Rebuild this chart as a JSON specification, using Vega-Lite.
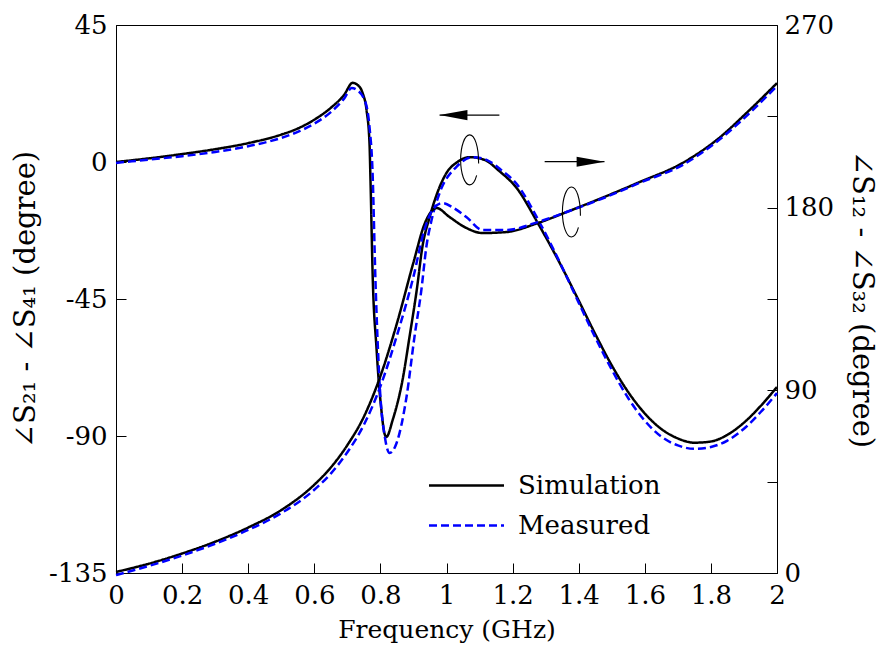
{
  "$schema": "https://vega.github.io/schema/vega-lite/v6.json",
  "width": 661,
  "height": 548,
  "autosize": {"type": "none"},
  "padding": {"left": 116, "top": 25, "right": 108, "bottom": 79},
  "background": "white",
  "config": {
    "view": {"stroke": "black", "strokeWidth": 1},
    "font": "DejaVu Serif",
    "axis": {"grid": false, "labelFont": "DejaVu Serif", "titleFont": "DejaVu Serif", "labelColor": "black", "titleColor": "black", "titleFontWeight": "normal", "domainColor": "black", "tickColor": "black", "labelFontSize": 26, "titleFontSize": 28, "tickSize": -10, "labelPadding": 19, "labelExpr": "replace(datum.label, '−', '-')"}
  },
  "datasets": {
    "left": [
      {"f": 0, "v": 0.0, "series": "Simulation"},
      {"f": 0.1, "v": 1.2, "series": "Simulation"},
      {"f": 0.2, "v": 2.6, "series": "Simulation"},
      {"f": 0.3, "v": 4.2, "series": "Simulation"},
      {"f": 0.4, "v": 6.2, "series": "Simulation"},
      {"f": 0.5, "v": 9.0, "series": "Simulation"},
      {"f": 0.55, "v": 11.0, "series": "Simulation"},
      {"f": 0.6, "v": 13.9, "series": "Simulation"},
      {"f": 0.65, "v": 17.8, "series": "Simulation"},
      {"f": 0.69, "v": 22.0, "series": "Simulation"},
      {"f": 0.716, "v": 26.0, "series": "Simulation"},
      {"f": 0.731, "v": 25.3, "series": "Simulation"},
      {"f": 0.746, "v": 22.7, "series": "Simulation"},
      {"f": 0.758, "v": 17.1, "series": "Simulation"},
      {"f": 0.767, "v": 6.2, "series": "Simulation"},
      {"f": 0.770, "v": -5.9, "series": "Simulation"},
      {"f": 0.777, "v": -38.8, "series": "Simulation"},
      {"f": 0.788, "v": -60.8, "series": "Simulation"},
      {"f": 0.794, "v": -70.6, "series": "Simulation"},
      {"f": 0.803, "v": -81.5, "series": "Simulation"},
      {"f": 0.812, "v": -89.0, "series": "Simulation"},
      {"f": 0.818, "v": -90.3, "series": "Simulation"},
      {"f": 0.837, "v": -84.8, "series": "Simulation"},
      {"f": 0.867, "v": -71.6, "series": "Simulation"},
      {"f": 0.888, "v": -57.5, "series": "Simulation"},
      {"f": 0.910, "v": -42.0, "series": "Simulation"},
      {"f": 0.927, "v": -27.9, "series": "Simulation"},
      {"f": 0.949, "v": -18.1, "series": "Simulation"},
      {"f": 0.970, "v": -10.8, "series": "Simulation"},
      {"f": 1.000, "v": -3.6, "series": "Simulation"},
      {"f": 1.033, "v": 0.0, "series": "Simulation"},
      {"f": 1.070, "v": 1.6, "series": "Simulation"},
      {"f": 1.115, "v": 0.7, "series": "Simulation"},
      {"f": 1.160, "v": -3.0, "series": "Simulation"},
      {"f": 1.212, "v": -8.5, "series": "Simulation"},
      {"f": 1.276, "v": -20.0, "series": "Simulation"},
      {"f": 1.333, "v": -31.2, "series": "Simulation"},
      {"f": 1.4, "v": -45.5, "series": "Simulation"},
      {"f": 1.45, "v": -56.5, "series": "Simulation"},
      {"f": 1.5, "v": -66.8, "series": "Simulation"},
      {"f": 1.55, "v": -75.6, "series": "Simulation"},
      {"f": 1.6, "v": -82.6, "series": "Simulation"},
      {"f": 1.65, "v": -87.7, "series": "Simulation"},
      {"f": 1.7, "v": -90.8, "series": "Simulation"},
      {"f": 1.75, "v": -92.2, "series": "Simulation"},
      {"f": 1.8, "v": -91.8, "series": "Simulation"},
      {"f": 1.85, "v": -89.6, "series": "Simulation"},
      {"f": 1.9, "v": -85.6, "series": "Simulation"},
      {"f": 1.95, "v": -80.2, "series": "Simulation"},
      {"f": 2.0, "v": -73.9, "series": "Simulation"},
      {"f": 0, "v": -0.3, "series": "Measured"},
      {"f": 0.1, "v": 0.8, "series": "Measured"},
      {"f": 0.2, "v": 1.9, "series": "Measured"},
      {"f": 0.3, "v": 3.3, "series": "Measured"},
      {"f": 0.4, "v": 5.2, "series": "Measured"},
      {"f": 0.5, "v": 7.9, "series": "Measured"},
      {"f": 0.55, "v": 9.9, "series": "Measured"},
      {"f": 0.6, "v": 12.6, "series": "Measured"},
      {"f": 0.65, "v": 16.4, "series": "Measured"},
      {"f": 0.69, "v": 20.8, "series": "Measured"},
      {"f": 0.713, "v": 24.3, "series": "Measured"},
      {"f": 0.728, "v": 23.7, "series": "Measured"},
      {"f": 0.752, "v": 20.4, "series": "Measured"},
      {"f": 0.767, "v": 11.5, "series": "Measured"},
      {"f": 0.776, "v": -2.6, "series": "Measured"},
      {"f": 0.785, "v": -38.8, "series": "Measured"},
      {"f": 0.797, "v": -71.6, "series": "Measured"},
      {"f": 0.815, "v": -91.3, "series": "Measured"},
      {"f": 0.828, "v": -95.6, "series": "Measured"},
      {"f": 0.849, "v": -92.3, "series": "Measured"},
      {"f": 0.879, "v": -77.2, "series": "Measured"},
      {"f": 0.903, "v": -57.5, "series": "Measured"},
      {"f": 0.924, "v": -42.0, "series": "Measured"},
      {"f": 0.939, "v": -27.9, "series": "Measured"},
      {"f": 0.955, "v": -19.0, "series": "Measured"},
      {"f": 0.979, "v": -10.2, "series": "Measured"},
      {"f": 1.030, "v": -1.6, "series": "Measured"},
      {"f": 1.079, "v": 1.6, "series": "Measured"},
      {"f": 1.121, "v": 0.7, "series": "Measured"},
      {"f": 1.165, "v": -2.6, "series": "Measured"},
      {"f": 1.212, "v": -7.2, "series": "Measured"},
      {"f": 1.281, "v": -19.7, "series": "Measured"},
      {"f": 1.351, "v": -34.8, "series": "Measured"},
      {"f": 1.4, "v": -46.2, "series": "Measured"},
      {"f": 1.45, "v": -57.6, "series": "Measured"},
      {"f": 1.5, "v": -68.2, "series": "Measured"},
      {"f": 1.55, "v": -77.6, "series": "Measured"},
      {"f": 1.6, "v": -85.0, "series": "Measured"},
      {"f": 1.65, "v": -90.2, "series": "Measured"},
      {"f": 1.7, "v": -93.1, "series": "Measured"},
      {"f": 1.75, "v": -94.2, "series": "Measured"},
      {"f": 1.8, "v": -93.6, "series": "Measured"},
      {"f": 1.85, "v": -91.5, "series": "Measured"},
      {"f": 1.9, "v": -87.6, "series": "Measured"},
      {"f": 1.95, "v": -82.2, "series": "Measured"},
      {"f": 2.0, "v": -75.9, "series": "Measured"}
    ],
    "right": [
      {"f": 0, "v": 0.5, "series": "Simulation"},
      {"f": 0.1, "v": 4.6, "series": "Simulation"},
      {"f": 0.2, "v": 9.6, "series": "Simulation"},
      {"f": 0.3, "v": 15.4, "series": "Simulation"},
      {"f": 0.4, "v": 22.4, "series": "Simulation"},
      {"f": 0.5, "v": 31.0, "series": "Simulation"},
      {"f": 0.6, "v": 43.5, "series": "Simulation"},
      {"f": 0.65, "v": 52.0, "series": "Simulation"},
      {"f": 0.7, "v": 63.0, "series": "Simulation"},
      {"f": 0.75, "v": 77.0, "series": "Simulation"},
      {"f": 0.8, "v": 97.0, "series": "Simulation"},
      {"f": 0.85, "v": 123.0, "series": "Simulation"},
      {"f": 0.9, "v": 153.0, "series": "Simulation"},
      {"f": 0.935, "v": 172.5, "series": "Simulation"},
      {"f": 0.970, "v": 179.8, "series": "Simulation"},
      {"f": 1.009, "v": 175.4, "series": "Simulation"},
      {"f": 1.060, "v": 170.0, "series": "Simulation"},
      {"f": 1.109, "v": 167.5, "series": "Simulation"},
      {"f": 1.182, "v": 168.0, "series": "Simulation"},
      {"f": 1.276, "v": 172.4, "series": "Simulation"},
      {"f": 1.372, "v": 178.4, "series": "Simulation"},
      {"f": 1.478, "v": 185.3, "series": "Simulation"},
      {"f": 1.584, "v": 192.6, "series": "Simulation"},
      {"f": 1.714, "v": 202.0, "series": "Simulation"},
      {"f": 1.817, "v": 213.3, "series": "Simulation"},
      {"f": 1.917, "v": 228.1, "series": "Simulation"},
      {"f": 2.0, "v": 241.4, "series": "Simulation"},
      {"f": 0, "v": -1.0, "series": "Measured"},
      {"f": 0.1, "v": 3.5, "series": "Measured"},
      {"f": 0.2, "v": 8.6, "series": "Measured"},
      {"f": 0.3, "v": 14.4, "series": "Measured"},
      {"f": 0.4, "v": 21.2, "series": "Measured"},
      {"f": 0.5, "v": 29.5, "series": "Measured"},
      {"f": 0.6, "v": 41.0, "series": "Measured"},
      {"f": 0.65, "v": 49.0, "series": "Measured"},
      {"f": 0.7, "v": 59.5, "series": "Measured"},
      {"f": 0.75, "v": 73.0, "series": "Measured"},
      {"f": 0.8, "v": 92.0, "series": "Measured"},
      {"f": 0.85, "v": 117.0, "series": "Measured"},
      {"f": 0.9, "v": 146.0, "series": "Measured"},
      {"f": 0.933, "v": 169.0, "series": "Measured"},
      {"f": 0.958, "v": 178.9, "series": "Measured"},
      {"f": 0.988, "v": 182.3, "series": "Measured"},
      {"f": 1.020, "v": 180.0, "series": "Measured"},
      {"f": 1.060, "v": 175.4, "series": "Measured"},
      {"f": 1.109, "v": 169.0, "series": "Measured"},
      {"f": 1.182, "v": 169.0, "series": "Measured"},
      {"f": 1.276, "v": 172.9, "series": "Measured"},
      {"f": 1.381, "v": 178.9, "series": "Measured"},
      {"f": 1.484, "v": 185.3, "series": "Measured"},
      {"f": 1.584, "v": 192.2, "series": "Measured"},
      {"f": 1.714, "v": 201.0, "series": "Measured"},
      {"f": 1.817, "v": 212.4, "series": "Measured"},
      {"f": 1.917, "v": 226.6, "series": "Measured"},
      {"f": 2.0, "v": 240.0, "series": "Measured"}
    ],
    "arrows": [
      {"f": 0.979, "f2": 1.160, "v": 15.4, "dir": "left", "fh": 1.021},
      {"f": 1.297, "f2": 1.478, "v": 0.1, "dir": "right", "fh": 1.436}
    ],
    "loops": [
      {"f": 1.070, "v": 0.7},
      {"f": 1.378, "v": -16.4}
    ]
  },
  "encoding": {
    "x": {"field": "f", "type": "quantitative", "scale": {"domain": [0, 2], "nice": false},
      "axis": {"values": [0, 0.2, 0.4, 0.6, 0.8, 1, 1.2, 1.4, 1.6, 1.8, 2], "format": "~g", "labelFlush": false, "title": "Frequency (GHz)", "titleFontSize": 25, "titlePadding": 9}}
  },
  "layer": [
    {
      "data": {"name": "left"},
      "mark": {"type": "line", "strokeWidth": 2.5, "interpolate": "monotone"},
      "encoding": {
        "y": {"field": "v", "type": "quantitative", "scale": {"domain": [-135, 45], "nice": false},
          "axis": {"orient": "left", "values": [-135, -90, -45, 0, 45], "title": "∠S₂₁ - ∠S₄₁ (degree)", "titleFontSize": 29, "titlePadding": 8}},
        "color": {"field": "series", "type": "nominal", "scale": {"domain": ["Simulation", "Measured"], "range": ["#000000", "#0000ff"]},
          "legend": {"orient": "none", "legendX": 334, "legendY": 444, "title": null, "symbolType": "M -2.5 0 L 2.5 0", "symbolSize": 900, "symbolStrokeWidth": 2.5, "labelFontSize": 26, "labelFont": "DejaVu Serif", "labelColor": "black", "labelOffset": 35, "rowPadding": 10, "padding": 0}},
        "strokeDash": {"field": "series", "type": "nominal", "scale": {"domain": ["Simulation", "Measured"], "range": [[1, 0], [8, 4]]},
          "legend": {"orient": "none", "legendX": 334, "legendY": 444, "title": null, "symbolType": "M -2.5 0 L 2.5 0", "symbolSize": 900, "symbolStrokeWidth": 2.5, "labelFontSize": 26, "labelFont": "DejaVu Serif", "labelColor": "black", "labelOffset": 35, "rowPadding": 10, "padding": 0}}
      }
    },
    {
      "data": {"name": "right"},
      "mark": {"type": "line", "strokeWidth": 2.5, "interpolate": "monotone"},
      "encoding": {
        "y": {"field": "v", "type": "quantitative", "scale": {"domain": [0, 270], "nice": false},
          "axis": {"orient": "right", "values": [0, 45, 90, 135, 180, 225, 270], "labelExpr": "datum.value % 90 === 0 ? datum.label : ''", "title": "∠S₁₂ - ∠S₃₂ (degree)", "titleFontSize": 29, "titlePadding": 13, "labelPadding": 17}},
        "color": {"field": "series", "type": "nominal"},
        "strokeDash": {"field": "series", "type": "nominal"}
      }
    },
    {
      "data": {"name": "arrows"},
      "mark": {"type": "rule", "color": "black", "strokeWidth": 1.3},
      "encoding": {
        "x2": {"field": "f2"},
        "y": {"field": "v", "type": "quantitative", "scale": {"domain": [-135, 45], "nice": false}, "axis": null}
      }
    },
    {
      "data": {"name": "arrows"},
      "mark": {"type": "point", "filled": true, "size": 784, "color": "black", "opacity": 1},
      "encoding": {
        "x": {"field": "fh", "type": "quantitative"},
        "y": {"field": "v", "type": "quantitative", "scale": {"domain": [-135, 45], "nice": false}, "axis": null},
        "shape": {"field": "dir", "type": "nominal", "scale": {"domain": ["left", "right"], "range": ["M -1 0 L 1 -0.36 L 1 0.36 Z", "M 1 0 L -1 -0.36 L -1 0.36 Z"]}, "legend": null}
      }
    },
    {
      "data": {"name": "loops"},
      "mark": {"type": "point", "filled": false, "size": 2500, "stroke": "black", "strokeWidth": 1.1, "opacity": 1, "shape": "M 0.36 0.15 C 0.36 -0.55 0.2 -1 0 -1 C -0.2 -1 -0.36 -0.55 -0.36 0 C -0.36 0.55 -0.2 1 0 1 C 0.12 1 0.22 0.85 0.28 0.62"},
      "encoding": {
        "y": {"field": "v", "type": "quantitative", "scale": {"domain": [-135, 45], "nice": false}, "axis": null}
      }
    }
  ],
  "resolve": {"scale": {"y": "independent"}}
}
